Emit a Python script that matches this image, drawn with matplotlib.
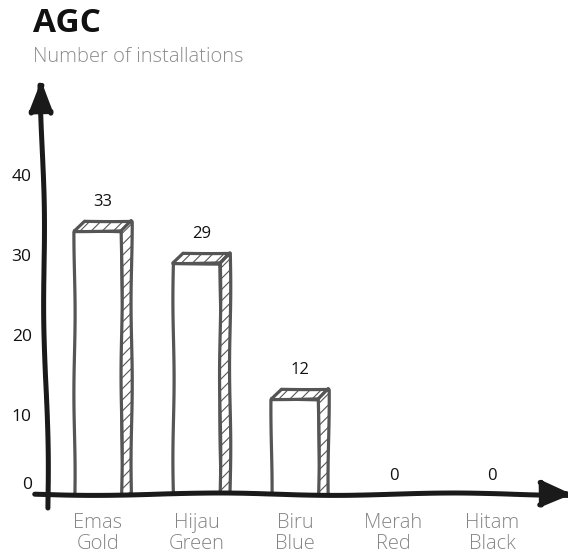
import matplotlib
matplotlib.use("Agg")
import matplotlib.pyplot as plt
from matplotlib.patches import Polygon
from matplotlib.transforms import ScaledTranslation
import numpy as np

categories = ["Emas\nGold", "Hijau\nGreen", "Biru\nBlue", "Merah\nRed", "Hitam\nBlack"]
values = [33, 29, 12, 0, 0]
yticks = [0, 10, 20, 30, 40]
title = "AGC"
subtitle = "Number of installations"

plt.rcParams['font.family'] = ['Open Sans', 'DejaVu Sans']
plt.rcParams['hatch.linewidth'] = 0.8

W, H = 568, 556
fig = plt.figure(figsize=(W / 100, H / 100), dpi=100)
left_px, base_px = 40, 495
ax = fig.add_axes([left_px / W, (H - base_px) / H, (W - left_px) / W, base_px / H])

PXX = 98.5   # pixels per category
PXY = 8.0    # pixels per unit
x0 = 98
ax.set_xlim((left_px - x0) / PXX, (W - x0) / PXX)
ax.set_ylim(0, base_px / PXY)
for s in ax.spines.values():
    s.set_visible(False)

x = np.arange(len(categories))
bw = 0.48
dx = 10 / PXX
dy = 10 / PXY
edge = '#555555'
sketch = (0.6, 160, 1)

for xi, v in zip(x, values):
    if v <= 0:
        continue
    xl, xr = xi - bw / 2, xi + bw / 2
    front = ax.bar(xi, v, width=bw, facecolor='white', edgecolor=edge, linewidth=2.3, zorder=3)
    for p in front:
        p.set_sketch_params(*sketch)
    top = Polygon([(xl, v), (xl + dx, v + dy), (xr + dx, v + dy), (xr, v)], closed=True,
                  facecolor='white', edgecolor=edge, hatch='///', linewidth=2.3, zorder=3,
                  joinstyle='round')
    side = Polygon([(xr, 0), (xr, v), (xr + dx, v + dy), (xr + dx, 0)], closed=True,
                   facecolor='white', edgecolor=edge, hatch='///', linewidth=2.3, zorder=3,
                   joinstyle='round')
    for p in (top, side):
        p.set_sketch_params(*sketch)
        ax.add_patch(p)

for xi, v in zip(x, values):
    lx = xi + (dx / 2 if v > 0 else 0)
    ly = v + (dy if v > 0 else 0)
    ax.annotate(str(v), (lx, ly), xytext=(0, 8), textcoords='offset points',
                ha='center', va='bottom', fontsize=12, color='#111111')

# axis arrows
ya = ax.annotate('', xy=(0.002, (base_px - 78) / PXY), xycoords=('axes fraction', 'data'),
                 xytext=(0.015, -13 / PXY), textcoords=('axes fraction', 'data'),
                 arrowprops=dict(arrowstyle='-|>,head_length=2.0,head_width=0.75', color='#1a1a1a',
                                 lw=3.6, shrinkA=0, shrinkB=0, joinstyle='round', capstyle='round'),
                 annotation_clip=False)
xa = ax.annotate('', xy=(1.012, 0.1), xycoords=('axes fraction', 'data'),
                 xytext=(-0.01, 0.1), textcoords=('axes fraction', 'data'),
                 arrowprops=dict(arrowstyle='-|>,head_length=2.0,head_width=0.85', color='#1a1a1a',
                                 lw=3.6, shrinkA=0, shrinkB=0, joinstyle='round', capstyle='round'),
                 annotation_clip=False)
for a in (ya, xa):
    a.arrow_patch.set_sketch_params(1.2, 250, 1.5)
    a.arrow_patch.set_zorder(5)

ax.set_xticks(x)
ax.set_xticklabels(categories, fontsize=14.5, color='#858585', linespacing=1.05, fontweight='light')
ax.tick_params(axis='x', length=0, pad=13)
ax.set_yticks(yticks)
ax.set_yticklabels([str(t) for t in yticks], fontsize=12.5, color='#111111')
ax.tick_params(axis='y', length=0, pad=6)
lab0 = ax.get_yticklabels()[0]
lab0.set_transform(lab0.get_transform() + ScaledTranslation(0, 0.12, fig.dpi_scale_trans))

fig.text(33 / W, 1 - 23 / H, title, fontsize=24, fontweight='bold', va='center', ha='left', color='#111111')
fig.text(33 / W, 1 - 57 / H, subtitle, fontsize=14.5, va='center', ha='left', color='#8c8c8c',
         fontweight='light')

fig.savefig('out.png', dpi=100)
